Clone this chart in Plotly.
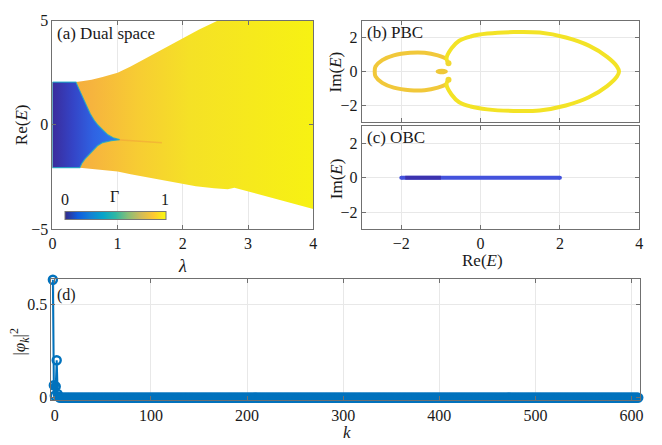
import plotly.graph_objects as go

W, H = 662, 445

# ---------------- data ----------------
# (a) dual space: region boundaries (lambda, Re(E))
a_outer_lam = [0, 0.36, 0.45, 0.6, 0.77, 0.9, 1.0, 1.2, 1.48, 1.75, 1.98, 2.25, 2.54, 4.0,
               4.0, 2.79, 2.69, 2.48, 2.2, 1.98, 1.7, 1.48, 1.2, 1.0, 0.77, 0.55, 0.42, 0]
a_outer_E = [2.05, 2.05, 2.09, 2.16, 2.29, 2.4, 2.5, 2.8, 3.28, 3.73, 4.13, 4.57, 5.0, 5.0,
             -4.03, -3.01, -3.08, -3.04, -2.94, -2.82, -2.67, -2.55, -2.37, -2.24, -2.16, -2.09, -2.05, -2.05]
a_blue_lam = [0, 0.36, 0.41, 0.47, 0.52, 0.58, 0.64, 0.70, 0.78, 0.85, 0.93, 1.03,
              0.9, 0.77, 0.69, 0.62, 0.55, 0.50, 0.45, 0.42, 0, 0]
a_blue_E = [2.05, 2.05, 1.7, 1.3, 0.9, 0.53, 0.22, -0.02, -0.27, -0.48, -0.62, -0.71,
            -0.76, -0.85, -1.0, -1.22, -1.45, -1.63, -1.85, -2.05, -2.05, 2.05]
a_seam_lam = [1.0, 1.3, 1.68]
a_seam_E = [-0.71, -0.78, -0.86]

# (b) PBC spectrum branches (Re E, Im E)
pbc_big_re = [-0.81, -0.86, -0.73, -0.54, -0.25, 0.17, 0.83, 1.49, 2.15, 2.73, 3.19, 3.44, 3.49,
              3.44, 3.19, 2.73, 2.15, 1.49, 0.83, 0.17, -0.25, -0.54, -0.73, -0.86, -0.81]
pbc_big_im = [0.48, 0.76, 1.37, 1.81, 2.06, 2.23, 2.32, 2.29, 2.0, 1.52, 0.86, 0.29, 0.0,
              -0.29, -0.86, -1.52, -2.0, -2.29, -2.32, -2.23, -2.06, -1.81, -1.37, -0.76, -0.48]
pbc_left_re = [-0.86, -1.08, -1.41, -1.78, -2.19, -2.48, -2.65, -2.67, -2.65, -2.48, -2.19, -1.78, -1.41, -1.08, -0.86]
pbc_left_im = [0.76, 0.95, 1.10, 1.10, 0.95, 0.67, 0.29, 0.0, -0.29, -0.67, -0.95, -1.10, -1.10, -0.95, -0.76]
pbc_small_re = [-0.87, -0.92, -0.98, -1.04, -1.09, -1.04, -0.98, -0.92, -0.87]
pbc_small_im = [0.0, 0.045, 0.055, 0.045, 0.0, -0.045, -0.055, -0.045, 0.0]
pbc_dot_re = [-0.81, -0.81]
pbc_dot_im = [0.48, -0.48]

# (c) OBC spectrum (real segment)
obc_re = [-2.0, 2.0]
obc_im = [0.0, 0.0]
obc_dark_re = [-1.9, -1.0]
obc_dark_im = [0.0, 0.0]

# (d) |phi_k|^2
k_vals = list(range(-2, 608))
phi2 = [0.63, 0.066, 0.01, 0.06, 0.20, 0.02, 0.005] + [0.0] * (len(k_vals) - 7)

lam_ticks = [0, 1, 2, 3, 4]
reE_ticks_a = [-5, 0, 5]
im_ticks = [-2, 0, 2]
re_ticks = [-2, 0, 2, 4]
k_ticks = [0, 100, 200, 300, 400, 500, 600]
phi_ticks = [0, 0.5]

parula = [[0.0, '#352a87'], [0.125, '#0f5cdd'], [0.25, '#1481d6'], [0.375, '#06a4ca'],
          [0.5, '#2eb7a4'], [0.625, '#87bf77'], [0.75, '#d1bb59'], [0.875, '#fec832'], [1.0, '#f9fb0e']]

# ---------------- figure ----------------
FONT = 'Liberation Serif, Times New Roman, serif'
fig = go.Figure()

def px_x(a, b):
    return [a / W, b / W]

def px_y(top, bottom):
    return [1 - bottom / H, 1 - top / H]

# (a)
fig.add_trace(go.Scatter(x=a_outer_lam, y=a_outer_E, mode='lines', line=dict(width=0),
                         fill='toself',
                         fillgradient=dict(type='horizontal', start=0, stop=4,
                                           colorscale=[[0, '#f3a63c'], [0.15, '#f6b43e'], [0.32, '#f7cc33'],
                                                       [0.52, '#f5e126'], [1, '#f7f212']]),
                         hoverinfo='skip', showlegend=False, xaxis='x', yaxis='y'))
fig.add_trace(go.Scatter(x=a_seam_lam, y=a_seam_E, mode='lines', line=dict(width=1.5, color='rgba(240,150,60,0.45)'),
                         hoverinfo='skip', showlegend=False, xaxis='x', yaxis='y'))
fig.add_trace(go.Scatter(x=a_blue_lam, y=a_blue_E, mode='lines',
                         line=dict(width=1.2, color='rgba(30,170,200,0.85)'),
                         fill='toself',
                         fillgradient=dict(type='horizontal', start=0, stop=1.03,
                                           colorscale=[[0, '#3a2c9c'], [0.3, '#3444c6'], [0.6, '#2f62e2'], [1, '#2b7ef0']]),
                         hoverinfo='skip', showlegend=False, xaxis='x', yaxis='y'))
# colorbar carrier
fig.add_trace(go.Scatter(x=[2, 2], y=[0, 0], mode='markers',
                         marker=dict(size=1, opacity=0, color=[0, 1], cmin=0, cmax=1, colorscale=parula,
                                     showscale=True,
                                     colorbar=dict(orientation='h', x=113 / W, xanchor='center',
                                                   y=1 - 216 / H, yanchor='middle', len=102 / W, lenmode='fraction',
                                                   thickness=8, thicknessmode='pixels', showticklabels=False, ticks='',
                                                   outlinewidth=1, outlinecolor='#777', xpad=0, ypad=0)),
                         hoverinfo='skip', showlegend=False, xaxis='x', yaxis='y'))

# (b)
fig.add_trace(go.Scatter(x=pbc_left_re, y=pbc_left_im, mode='lines', line=dict(width=4, color='#f1c83a', shape='spline'),
                         hoverinfo='skip', showlegend=False, xaxis='x2', yaxis='y2'))
fig.add_trace(go.Scatter(x=pbc_big_re, y=pbc_big_im, mode='lines', line=dict(width=4, color='#f3e326', shape='spline'),
                         hoverinfo='skip', showlegend=False, xaxis='x2', yaxis='y2'))
fig.add_trace(go.Scatter(x=pbc_small_re, y=pbc_small_im, mode='lines', line=dict(width=3.5, color='#efc838', shape='spline'),
                         hoverinfo='skip', showlegend=False, xaxis='x2', yaxis='y2'))
fig.add_trace(go.Scatter(x=pbc_dot_re, y=pbc_dot_im, mode='markers', marker=dict(size=6, color='#f1d830'),
                         hoverinfo='skip', showlegend=False, xaxis='x2', yaxis='y2'))

# (c)
fig.add_trace(go.Scatter(x=obc_re, y=obc_im, mode='lines+markers', line=dict(width=4, color='#4352dc'),
                         marker=dict(size=4, color='#4352dc'),
                         hoverinfo='skip', showlegend=False, xaxis='x3', yaxis='y3'))
fig.add_trace(go.Scatter(x=obc_dark_re, y=obc_dark_im, mode='lines', line=dict(width=4, color='rgba(58,40,160,0.75)'),
                         hoverinfo='skip', showlegend=False, xaxis='x3', yaxis='y3'))

# (d)
fig.add_trace(go.Scatter(x=k_vals, y=phi2, mode='lines+markers', line=dict(width=2, color='#0072BD'),
                         marker=dict(symbol='circle-open', size=8, line=dict(width=2.4, color='#0072BD'), color='#0072BD'),
                         cliponaxis=False, hoverinfo='skip', showlegend=False, xaxis='x4', yaxis='y4'))

axis_common = dict(showline=True, linecolor='#707070', linewidth=1, mirror='ticks', ticks='inside', ticklen=4,
                   tickcolor='#707070', showgrid=True, gridcolor='#e8e8e8', gridwidth=1, zeroline=False,
                   tickfont=dict(family=FONT, size=16, color='#1a1a1a'))

fig.update_layout(
    width=W, height=H, margin=dict(l=0, r=0, t=0, b=0), paper_bgcolor='white', plot_bgcolor='white',
    xaxis=dict(domain=px_x(49, 313), range=[0, 4], tickvals=lam_ticks, anchor='y', **axis_common),
    yaxis=dict(domain=px_y(13, 230), range=[-5, 5], tickvals=reE_ticks_a, anchor='x', **axis_common),
    xaxis2=dict(domain=px_x(362, 643), range=[-3, 4], tickvals=re_ticks, showticklabels=False, anchor='y2', **axis_common),
    yaxis2=dict(domain=px_y(13, 119), range=[-3, 3], tickvals=im_ticks, anchor='x2', **axis_common),
    xaxis3=dict(domain=px_x(362, 643), range=[-3, 4], tickvals=re_ticks, anchor='y3', **axis_common),
    yaxis3=dict(domain=px_y(123, 230), range=[-3, 3], tickvals=im_ticks, anchor='x3', **axis_common),
    xaxis4=dict(domain=px_x(48, 644), range=[-3.5, 609], tickvals=k_ticks, anchor='y4', **axis_common),
    yaxis4=dict(domain=px_y(282, 408), range=[-0.015, 0.633], tickvals=phi_ticks, anchor='x4', **axis_common),
)

def ann(text, x, y, size=17, angle=0, xanchor='center'):
    fig.add_annotation(text=text, x=x / W, y=1 - y / H, xref='paper', yref='paper', showarrow=False,
                       font=dict(family=FONT, size=size, color='#1a1a1a'), textangle=angle,
                       xanchor=xanchor, yanchor='middle')

ann('(a) Dual space', 52, 26, xanchor='left')
ann('(b) PBC', 365, 25, xanchor='left')
ann('(c) OBC', 365, 135, xanchor='left')
ann('(d)', 52, 298, size=16, xanchor='left')
ann('Re(<i>E</i>)', 18, 121, angle=-90)
ann('<i>λ</i>', 181, 268, size=18)
ann('Im(<i>E</i>)', 336, 66, angle=-90)
ann('Im(<i>E</i>)', 336, 177, angle=-90)
ann('Re(<i>E</i>)', 484, 263)
ann('|<i>φ</i><sub><i>k</i></sub>|<sup>2</sup>', 16, 347, size=17, angle=-90)
ann('<i>k</i>', 347, 441, size=17)
ann('0', 62, 199, size=16)
ann('Γ', 112, 196, size=16)
ann('1', 163, 199, size=16)

fig.write_html('out.html')
